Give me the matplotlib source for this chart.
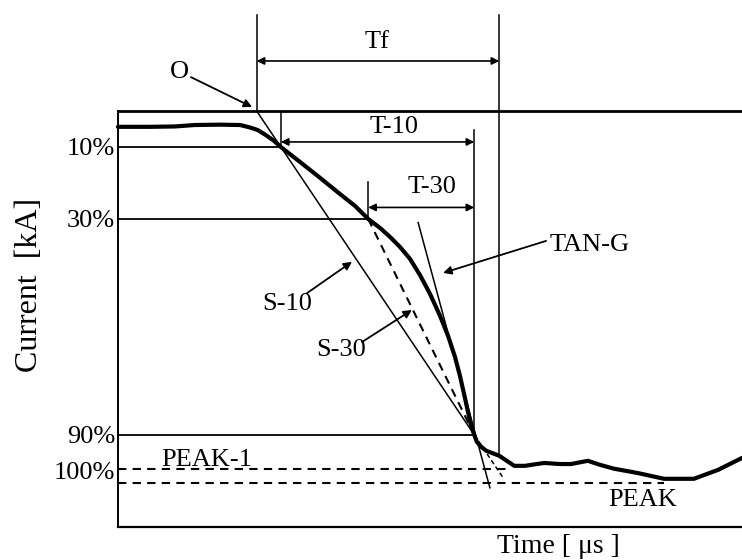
import matplotlib.pyplot as plt

plt.rcParams['font.family'] = ['Liberation Serif', 'DejaVu Serif']

# measured front of the current waveform (time in us, current in % of peak)
t_wave = [0.0, 0.51, 0.91, 1.23, 1.64, 1.96, 2.12, 2.24, 2.37, 2.50, 2.61,
          2.92, 3.24, 3.56, 3.80, 4.01, 4.20, 4.36, 4.52, 4.68, 4.84, 5.00,
          5.16, 5.29, 5.40, 5.48, 5.56, 5.63, 5.66, 5.71, 5.75, 5.82, 5.90,
          5.99, 6.11, 6.23, 6.35, 6.52, 6.83, 7.08, 7.26, 7.53, 7.72, 7.95,
          8.33, 8.75, 9.23, 9.62, 10.0]
i_wave = [4.4, 4.4, 4.3, 3.9, 3.8, 3.9, 4.6, 5.3, 6.7, 8.3, 10.0,
          14.2, 18.6, 23.1, 26.4, 30.0, 32.5, 35.0, 37.8, 41.1, 45.6, 50.8,
          56.9, 62.5, 68.3, 73.6, 79.7, 85.3, 87.5, 90.0, 91.9, 93.3, 94.4,
          95.0, 95.8, 97.2, 98.6, 98.6, 97.8, 98.1, 98.1, 97.2, 98.3, 99.4,
          100.6, 102.2, 102.2, 99.7, 96.4]

levels = [10, 30, 90, 100]
level_labels = ['10%', '30%', '90%', '100%']

# crossing times of the 10 / 30 / 90 % levels and end of the front
t10, t30, t90 = 2.61, 4.01, 5.71
t_f = 6.11

peak1_level, peak1_end = 99.4, 6.25
peak_level, peak_end = 103.3, 8.75

# tangent at the steepest part of the front
tan_t = [4.81, 5.96]
tan_i = [31.0, 104.7]

s10_slope = (90 - 10) / (t90 - t10)
t_o = t10 - 10 / s10_slope

fig = plt.figure(figsize=(7.42, 5.6), dpi=100)
ax = fig.add_axes([0.159, 0.0589, 0.841, 0.7429])
ax.set_xlim(0, 10)
ax.set_ylim(115.6, 0)

ax.spines['right'].set_visible(False)
ax.spines['top'].set_linewidth(2.0)
ax.spines['left'].set_linewidth(1.4)
ax.spines['bottom'].set_linewidth(1.6)

ax.set_xticks([])
ax.set_yticks(levels)
ax.set_yticklabels(level_labels)
ax.tick_params(axis='y', length=0, pad=2, labelsize=19)

k = dict(color='black', clip_on=False)

# waveform
ax.plot(t_wave, i_wave, lw=3.0, solid_capstyle='round',
        solid_joinstyle='round', **k)

# level lines
ax.plot([0, t10], [10, 10], lw=1.3, **k)
ax.plot([0, t30], [30, 30], lw=1.3, **k)
ax.plot([0, t90], [90, 90], lw=1.3, **k)
ax.plot([0, peak1_end], [peak1_level, peak1_level], lw=1.5, ls=(0, (4, 3)), **k)
ax.plot([0, peak_end], [peak_level, peak_level], lw=1.5, ls=(0, (4, 3)), **k)

# S-10 line through the 10% and 90% points, extended up to the origin O
ax.plot([t_o, t90], [0, 90], lw=1.1, **k)
s10_end = 101.9
ax.plot([t90, t_o + s10_end / s10_slope], [90, s10_end], lw=1.1, ls=(0, (3, 2)), **k)

# S-30 line through the 30% and 90% points
ax.plot([t30, t90], [30, 90], lw=1.5, ls=(0, (4, 3)), **k)

# TAN-G
ax.plot(tan_t, tan_i, lw=1.1, **k)

# vertical markers
ax.plot([t_o, t_o], [-26.7, 0], lw=1.1, **k)
ax.plot([t_f, t_f], [-26.7, 95.8], lw=1.1, **k)
ax.plot([t10, t10], [0.5, 10], lw=1.1, **k)
ax.plot([t90, t90], [5.3, 90], lw=1.1, **k)
ax.plot([t30, t30], [19.7, 30], lw=1.1, **k)

dim = dict(arrowstyle='<|-|>', mutation_scale=11, lw=1.2, color='black',
           shrinkA=0, shrinkB=0)
ax.annotate('', xy=(t_f, -13.9), xytext=(t_o, -13.9), arrowprops=dim,
            annotation_clip=False)
ax.annotate('', xy=(t90, 8.6), xytext=(t10, 8.6), arrowprops=dim)
ax.annotate('', xy=(t90, 26.8), xytext=(t30, 26.8), arrowprops=dim)

fs = 19
ax.text(4.15, -19.2, 'Tf', fontsize=fs, ha='center', va='center', clip_on=False)
ax.text(4.42, 4.4, 'T-10', fontsize=fs, ha='center', va='center')
ax.text(5.03, 21.1, 'T-30', fontsize=fs, ha='center', va='center')

lead = dict(arrowstyle='-|>', mutation_scale=12, lw=1.3, color='black',
            shrinkA=0, shrinkB=0)
ax.text(0.99, -10.8, 'O', fontsize=fs, ha='center', va='center', clip_on=False)
ax.annotate('', xy=(2.15, -1.1), xytext=(1.17, -9.4), arrowprops=lead,
            annotation_clip=False)

ax.text(2.71, 53.6, 'S-10', fontsize=fs, ha='center', va='center')
ax.annotate('', xy=(3.75, 41.9), xytext=(3.03, 50.6), arrowprops=lead)

ax.text(3.57, 66.4, 'S-30', fontsize=fs, ha='center', va='center')
ax.annotate('', xy=(4.71, 55.3), xytext=(3.91, 64.2), arrowprops=lead)

ax.text(6.91, 37.2, 'TAN-G', fontsize=fs, ha='left', va='center')
ax.annotate('', xy=(5.21, 45.0), xytext=(6.86, 36.1), arrowprops=lead)

ax.text(1.43, 96.9, 'PEAK-1', fontsize=fs, ha='center', va='center')
ax.text(8.41, 108.1, 'PEAK', fontsize=fs, ha='center', va='center')

ax.text(0.705, -0.048, 'Time [ μs ]', fontsize=20, ha='center', va='center',
        transform=ax.transAxes)
ax.text(-0.141, 0.582, 'Current  [kA]', fontsize=23, rotation=90,
        ha='center', va='center', transform=ax.transAxes)

fig.savefig('out.png', dpi=100)
